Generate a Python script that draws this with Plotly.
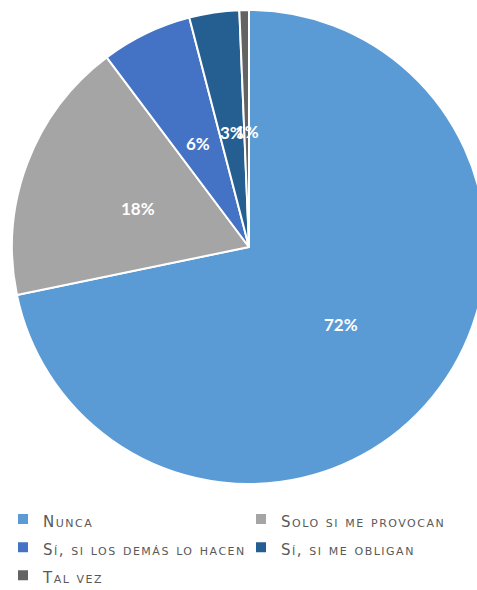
import math
import plotly.graph_objects as go

categories = ["Nunca", "Solo si me provocan", "Sí, si los demás lo hacen", "Sí, si me obligan", "Tal vez"]
values = [71.75, 18.0, 6.2, 3.4, 0.65]
colors = ["#5B9BD5", "#A5A5A5", "#4472C4", "#255E91", "#636363"]

W, H = 490, 630
cx, cy, R = 249, 247, 237

legend_labels = [f"<span style='font-size:15px;letter-spacing:1.5px'>{c}</span>" for c in categories]

fig = go.Figure(go.Pie(
    labels=legend_labels,
    values=values,
    sort=False,
    direction="clockwise",
    rotation=0,
    marker=dict(colors=colors, line=dict(color="white", width=2)),
    textinfo="none",
    domain=dict(x=[(cx - R) / W, (cx + R) / W], y=[(H - cy - R) / H, (H - cy + R) / H]),
    hoverinfo="label+percent",
))

# data labels at mid-angle of each slice
total = sum(values)
cum = 0.0
for v in values:
    mid = (cum + v / 2) / total * 2 * math.pi
    cum += v
    r = 0.5 * R
    px = cx + r * math.sin(mid)
    py = cy - r * math.cos(mid)
    fig.add_annotation(
        x=px, y=py, xref="x", yref="y", yshift=-3,
        text=f"{round(v / total * 100)}%", showarrow=False,
        font=dict(family="Lato", size=17, color="white", weight="bold"),
    )

fig.update_layout(
    width=W, height=H,
    margin=dict(l=0, r=0, t=0, b=0),
    paper_bgcolor="white",
    plot_bgcolor="rgba(0,0,0,0)",
    showlegend=True,
    xaxis=dict(range=[0, W], visible=False, fixedrange=True),
    yaxis=dict(range=[H, 0], visible=False, fixedrange=True),
    legend=dict(
        orientation="h",
        x=3 / W, y=(H - 500) / H, xanchor="left", yanchor="top",
        entrywidth=193, entrywidthmode="pixels",
        font=dict(family="DejaVu Sans", size=19.3, color="#595959", variant="small-caps"),
        itemsizing="constant",
    ),
)

fig.write_html(
    "out.html",
    config={"displayModeBar": False},
    post_script="document.documentElement.style.overflow='hidden';document.body.style.overflow='hidden';document.body.style.margin='0';",
)
